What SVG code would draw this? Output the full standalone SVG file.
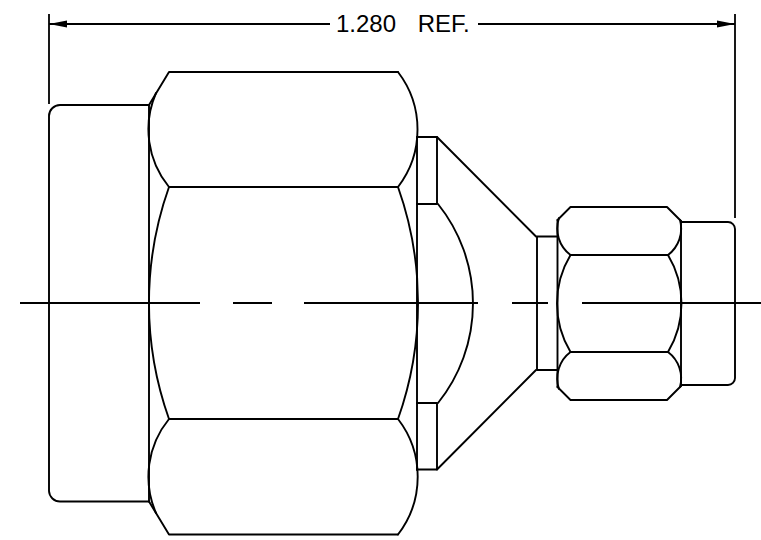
<svg xmlns="http://www.w3.org/2000/svg" width="761" height="540" viewBox="0 0 761 540">
<defs>
<marker id="arrow" viewBox="0 0 18 8" refX="18" refY="4" markerWidth="18" markerHeight="8" markerUnits="userSpaceOnUse" orient="auto-start-reverse"><path d="M0 0.500L18 4L0 7.500Z" fill="#000"/></marker>
</defs>
<style>
.l{fill:none;stroke:#000;stroke-width:1.900;stroke-linejoin:round;stroke-linecap:round}
.c{fill:none;stroke:#000;stroke-width:1.800}
text{font-family:"Liberation Sans",Arial,sans-serif;font-size:24px;fill:#000;word-spacing:15px}
</style>
<rect width="761" height="540" fill="#fff"/>
<g id="connectors">
<path class="c" d="M49 14V104M735 14V218"/>
<path class="c" marker-start="url(#arrow)" d="M49 24H330"/>
<path class="c" marker-end="url(#arrow)" d="M478 24H735"/>
<path class="c" d="M20 303H200M233 303H272M304 303H478M512 303H548M582 303H761"/>
</g>
<g id="dimension-label"><text x="336" y="32">1.280 REF.</text></g>
<g id="left-cap"><path class="l" d="M149 105H60A11 11 0 0 0 49 116V491A11 11 0 0 0 60 501.500H149"/></g>
<g id="large-nut">
<path class="l" d="M149 105V501.500"/>
<path class="l" d="M149 105L169 72H398M149 501.500L169 534.500H398"/>
<path class="l" d="M169 187H398M169 419H398"/>
<path class="l" d="M156 93A91 91 0 0 0 169 187M398 72A94.500 94.500 0 0 1 398 187"/>
<path class="l" d="M156 513A91 91 0 0 1 169 419M398 534.500A94.500 94.500 0 0 0 398 419"/>
<path class="l" d="M169 187A346 346 0 0 0 169 419M398 187A346 346 0 0 1 398 419"/>
</g>
<g id="neck">
<path class="l" d="M417 137V470"/>
<path class="l" d="M417 137H437V204H417M417 403H437V469.500H417"/>
<path class="l" d="M438 204A159 159 0 0 1 438 403"/>
<path class="l" d="M437 137L536 236.500M437 469.500L536 370"/>
<path class="l" d="M537 236.500V370M537 236.500H557M537 370H557"/>
</g>
<g id="small-nut">
<path class="l" d="M557.500 220V387"/>
<path class="l" d="M557.500 220L570.500 207H667L681 221M557.500 387L570.500 400H667L681 386"/>
<path class="l" d="M570.500 255H668M570.500 352H668"/>
<path class="l" d="M559 218A33 33 0 0 0 570.500 255M680 220A33 33 0 0 1 668 255"/>
<path class="l" d="M559 389A33 33 0 0 1 570.500 352M680 387A33 33 0 0 0 668 352"/>
<path class="l" d="M570.500 255A94 94 0 0 0 570.500 352M668 255A94 94 0 0 1 668 352"/>
<path class="l" d="M681 221V386"/>
</g>
<g id="right-cap"><path class="l" d="M681 222H728A7 7 0 0 1 735 229V378A7 7 0 0 1 728 385H681"/></g>
</svg>
